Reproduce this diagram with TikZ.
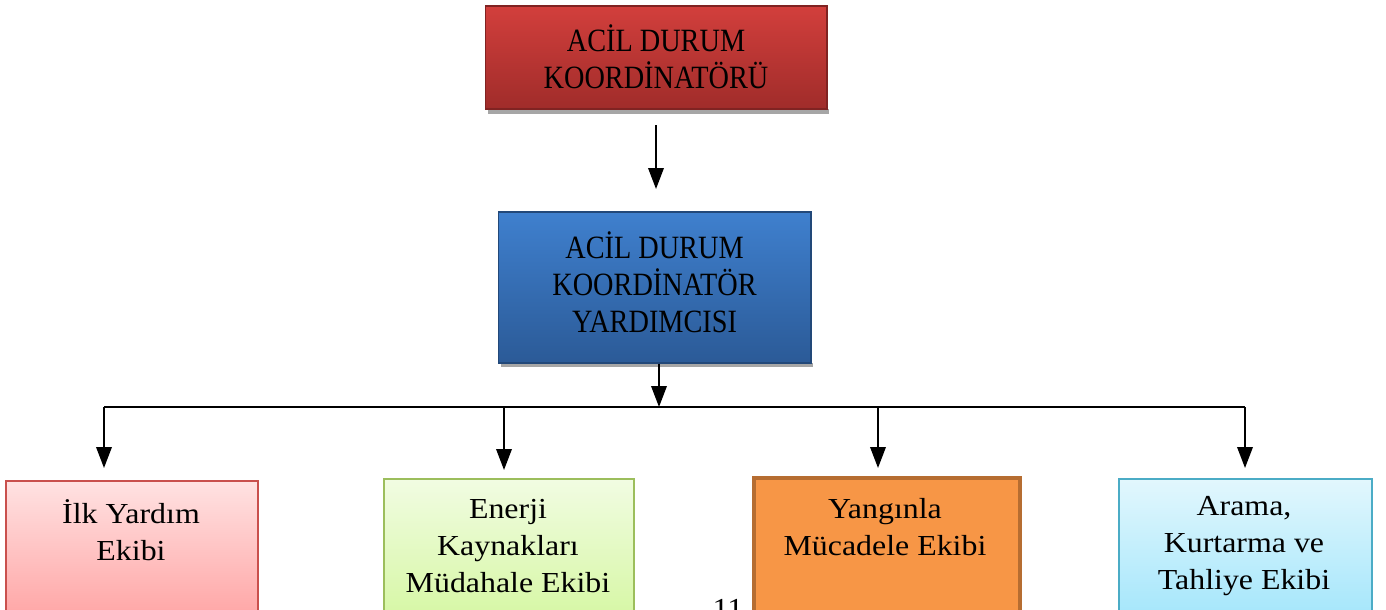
\documentclass[tikz,border=0pt]{standalone}
\usepackage{fontspec}
\setmainfont{Liberation Serif}
\newfontfamily\widefont[FakeStretch=1.1]{Liberation Serif}
\newfontfamily\narrowfont[FakeStretch=0.87]{Liberation Serif}
\usetikzlibrary{arrows.meta}
\definecolor{redT}{HTML}{D23F3C}
\definecolor{redB}{HTML}{A02C2A}
\definecolor{bluT}{HTML}{3F80CE}
\definecolor{bluB}{HTML}{2B5A97}
\definecolor{pinkT}{HTML}{FFE2E2}
\definecolor{pinkB}{HTML}{FFA4A4}
\definecolor{pinkD}{HTML}{C9504D}
\definecolor{grnT}{HTML}{F1FCE2}
\definecolor{grnB}{HTML}{D6F7A4}
\definecolor{grnD}{HTML}{9CBE5C}
\definecolor{orgF}{HTML}{F79646}
\definecolor{orgD}{HTML}{B66D31}
\definecolor{cyaT}{HTML}{E2F7FD}
\definecolor{cyaB}{HTML}{A4E6FB}
\definecolor{cyaD}{HTML}{4BACC6}
\tikzset{
  topbox/.style={rectangle, inner sep=0pt, draw=#1!80!black, line width=0.6pt},
  lowbox/.style={rectangle, inner sep=0pt, anchor=north west, minimum height=2.8cm},
  boxtxt/.style={align=center, font=\widefont\fontsize{16.5}{21.3}\selectfont, inner sep=0pt},
  hdtxt/.style={align=center, font=\narrowfont\fontsize{18.5}{21}\selectfont, inner sep=0pt},
  arr/.style={line width=1.1pt, -{Triangle[length=0.42cm,width=0.31cm]}},
  bus/.style={line width=1.1pt},
  shad/.style={fill=black!35, draw=none}
}
\begin{document}
\begin{tikzpicture}[x=0.02cm,y=-0.02cm]
\useasboundingbox (0,0) rectangle (1386,609);
% shadows
\fill[shad] (488,109) rectangle (829,114);
\fill[shad] (501,363) rectangle (813,367);
% top boxes
\node[topbox=redB, top color=redT, bottom color=redB, minimum width=6.84cm, minimum height=2.06cm] (coord) at (656,57.5) {};
\node[hdtxt] (coordtxt) at (656,57) {ACİL DURUM\\KOORDİNATÖRÜ};
\node[topbox=bluB, top color=bluT, bottom color=bluB, minimum width=6.26cm, minimum height=3.02cm] (yard) at (654.5,287.5) {};
\node[hdtxt] (yardtxt) at (654.5,282) {ACİL DURUM\\KOORDİNATÖR\\YARDIMCISI};
% bottom boxes
\node[lowbox, draw=pinkD, line width=1pt, top color=pinkT, bottom color=pinkB, minimum width=5.04cm] (b1) at (5,480) {};
\node[boxtxt] (t1) at (131,530) {İlk Yardım\\Ekibi};
\node[lowbox, draw=grnD, line width=1pt, top color=grnT, bottom color=grnB, minimum width=5.0cm] (b2) at (383,478) {};
\node[boxtxt] (t2) at (508,546) {Enerji\\Kaynakları\\Müdahale Ekibi};
\node[lowbox, draw=orgD, line width=2.4pt, fill=orgF, minimum width=5.32cm] (b3) at (752,476) {};
\node[boxtxt] (t3) at (885,527) {Yangınla\\Mücadele Ekibi};
\node[lowbox, draw=cyaD, line width=1pt, top color=cyaT, bottom color=cyaB, minimum width=5.06cm] (b4) at (1118,478) {};
\node[boxtxt] (t4) at (1244,546) {Arama,\\Kurtarma ve\\Tahliye Ekibi};
% page number (cut off at the page edge)
\node[font=\widefont\fontsize{16.5}{18}\selectfont, anchor=base, inner sep=0pt] (pg) at (728,618) {11};
% connectors
\coordinate (a1s) at (656,125);
\coordinate (a1e) at (656,189);
\draw[arr] (a1s) -- (a1e);
\coordinate (busL) at (104,407);
\coordinate (busR) at (1245,407);
\coordinate (busM) at (659,407);
\draw[bus] (busL) -- (busR);
\draw[arr] (yard.south -| busM) -- (busM);
\coordinate (d1) at (104,407);
\coordinate (d2) at (504,407);
\coordinate (d3) at (878,407);
\coordinate (d4) at (1245,407);
\draw[arr, shorten >=12*0.02cm] (d1) -- (d1 |- b1.north);
\draw[arr, shorten >=8*0.02cm] (d2) -- (d2 |- b2.north);
\draw[arr, shorten >=8*0.02cm] (d3) -- (d3 |- b3.north);
\draw[arr, shorten >=10*0.02cm] (d4) -- (d4 |- b4.north);
\end{tikzpicture}
\end{document}
